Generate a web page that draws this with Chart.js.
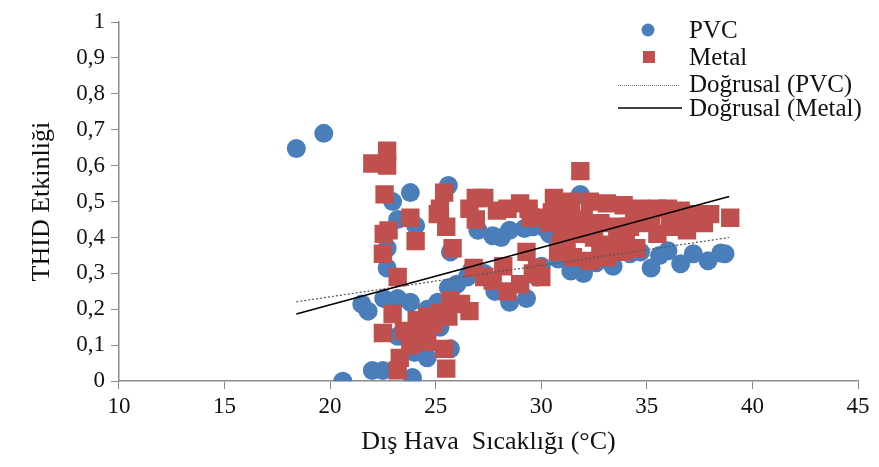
<!DOCTYPE html>
<html>
<head>
<meta charset="utf-8">
<script src="https://cdn.jsdelivr.net/npm/chart.js@4.4.0/dist/chart.umd.min.js"></script>
<style>
  html, body { margin: 0; padding: 0; background: #fff; }
  #wrap { width: 879px; height: 467px; }
</style>
</head>
<body>
<div id="wrap"><canvas id="scatterChart"></canvas></div>
<script>
var pvcX = [18.4, 19.7, 20.6, 21.5, 21.8, 22.0, 22.5, 23.9, 22.7, 22.96, 23.2, 23.8, 24.05, 22.7,
  22.54, 23.2, 23.8, 23.2, 24.6, 25.7, 25.1, 25.6, 24.6, 25.2, 24.0, 23.6, 25.6, 25.7, 26.0,
  26.5, 27.0, 27.7, 28.1, 28.5, 29.2, 29.6, 28.5, 29.3, 27.3, 27.8, 30.2, 30.4, 31.85, 31.4,
  32.0, 32.6, 33.4, 34.2, 35.2, 35.6, 36.0, 36.6, 37.2, 37.9, 38.5, 38.7, 30.0, 30.8, 33.0,
  34.7, 29.8, 26.7];
var pvcY = [0.648, 0.69, 0.0, 0.215, 0.195, 0.03, 0.03, 0.01, 0.37, 0.5, 0.45, 0.525, 0.433, 0.315,
  0.23, 0.23, 0.22, 0.125, 0.065, 0.09, 0.22, 0.26, 0.2, 0.15, 0.08, 0.12, 0.545, 0.36, 0.27,
  0.29, 0.42, 0.405, 0.40, 0.42, 0.425, 0.43, 0.22, 0.23, 0.3, 0.25, 0.425, 0.41, 0.52, 0.307,
  0.30, 0.33, 0.32, 0.355, 0.315, 0.35, 0.363, 0.327, 0.355, 0.335, 0.357, 0.355, 0.32, 0.34, 0.37,
  0.36, 0.29, 0.31];

var metalX = [22.0, 22.7, 22.7, 22.58, 23.8, 22.77, 22.54, 24.05, 22.5, 23.2, 22.96, 22.5, 23.5,
  24.1, 24.6, 25.2, 25.6, 23.3, 23.8, 24.6, 25.4, 23.2, 25.5, 25.4, 25.2, 25.1, 25.5, 25.8,
  26.9, 27.3, 26.9, 27.9, 28.4, 29.0, 29.4, 29.5, 26.8, 29.3, 28.4, 29.0, 29.6, 26.6, 26.2,
  25.7, 27.7, 27.3, 24.2, 24.9, 31.85, 30.6, 31.4, 32.3, 33.1, 33.9, 34.7, 35.5, 29.8, 30.4,
  31.0, 31.7, 32.5, 33.3, 33.9, 34.5, 31.5, 32.3, 33.1, 29.8, 30.0, 36.0, 36.6, 37.2, 38.0,
  38.95, 36.1, 36.9, 37.7, 35.0, 34.2, 30.9, 32.0, 28.2, 26.6, 30.5, 31.2, 32.0, 32.8, 33.6,
  34.4, 35.2, 36.4, 30.8, 31.2, 32.8, 34.0, 35.5];
var metalY = [0.606, 0.642, 0.60, 0.52, 0.455, 0.42, 0.41, 0.39, 0.355, 0.29, 0.187, 0.134, 0.14,
  0.17, 0.18, 0.19, 0.18, 0.065, 0.10, 0.11, 0.09, 0.03, 0.035, 0.525, 0.48, 0.465, 0.43, 0.37,
  0.51, 0.51, 0.45, 0.475, 0.48, 0.495, 0.48, 0.455, 0.315, 0.36, 0.25, 0.27, 0.30, 0.195, 0.215,
  0.225, 0.28, 0.29, 0.12, 0.16, 0.585, 0.51, 0.50, 0.50, 0.495, 0.49, 0.48, 0.48, 0.455, 0.44,
  0.43, 0.41, 0.40, 0.38, 0.36, 0.37, 0.345, 0.335, 0.345, 0.315, 0.29, 0.48, 0.475, 0.465, 0.465,
  0.455, 0.43, 0.42, 0.44, 0.44, 0.43, 0.38, 0.45, 0.32, 0.48, 0.47, 0.46, 0.45, 0.44, 0.43,
  0.45, 0.45, 0.45, 0.36, 0.39, 0.37, 0.40, 0.41];

// trend line ends
var pvcTrendX = [18.4, 38.9];
var pvcTrendY = [0.221, 0.40];
var metalTrendX = [18.4, 38.9];
var metalTrendY = [0.187, 0.514];

var xTicks = [10, 15, 20, 25, 30, 35, 40, 45];

function toPoints(xs, ys) {
  return xs.map(function (x, i) { return { x: x, y: ys[i] }; });
}

var blue = "#4a7ebb";
var red = "#c0504d";
var font = "'Liberation Serif', 'Times New Roman', serif";

// legend drawn by hand, top right over the plot
var legendPlugin = {
  id: "cornerLegend",
  afterDraw: function (chart) {
    var c = chart.ctx;
    c.save();
    c.font = "25px " + font;
    c.fillStyle = "#111";
    c.textBaseline = "alphabetic";
    c.textAlign = "left";
    var tx = 689;
    var base = [38, 65, 92, 116];
    var mid = [30, 57, 85, 108];
    var labels = ["PVC", "Metal", "Doğrusal (PVC)", "Doğrusal (Metal)"];
    labels.forEach(function (t, i) { c.fillText(t, tx, base[i]); });
    c.fillStyle = blue;
    c.beginPath();
    c.arc(648, mid[0], 6.5, 0, Math.PI * 2);
    c.fill();
    c.fillStyle = red;
    c.fillRect(643, mid[1] - 6, 12, 12);
    c.strokeStyle = "#777";
    c.lineWidth = 1;
    c.setLineDash([1, 1]);
    c.beginPath();
    c.moveTo(618, mid[2] + 0.5);
    c.lineTo(679, mid[2] + 0.5);
    c.stroke();
    c.setLineDash([]);
    c.strokeStyle = "#000";
    c.lineWidth = 1.5;
    c.beginPath();
    c.moveTo(618, mid[3]);
    c.lineTo(682, mid[3]);
    c.stroke();
    c.restore();
  }
};

var ctx = document.getElementById("scatterChart").getContext("2d");
var scatterChart = new Chart(ctx, {
  type: "scatter",
  data: {
    datasets: [
      {
        label: "Doğrusal (Metal)",
        type: "line",
        data: toPoints(metalTrendX, metalTrendY),
        borderColor: "#000",
        borderWidth: 1.6,
        pointRadius: 0,
        order: 1,
      },
      {
        label: "Doğrusal (PVC)",
        type: "line",
        data: toPoints(pvcTrendX, pvcTrendY),
        borderColor: "#555",
        borderWidth: 1.2,
        borderDash: [2, 2],
        pointRadius: 0,
        order: 2,
      },
      {
        label: "Metal",
        data: toPoints(metalX, metalY),
        pointStyle: "rect",
        pointRadius: 13,
        backgroundColor: red,
        borderWidth: 0,
        order: 3,
      },
      {
        label: "PVC",
        data: toPoints(pvcX, pvcY),
        pointStyle: "circle",
        pointRadius: 9.5,
        backgroundColor: blue,
        borderWidth: 0,
        order: 4,
      },
    ],
  },
  options: {
    responsive: true,
    maintainAspectRatio: false,
    animation: false,
    layout: {
      padding: { top: 22, right: 21, bottom: 9, left: 27 },
    },
    plugins: {
      legend: { display: false },
      tooltip: { enabled: false },
    },
    scales: {
      x: {
        type: "linear",
        min: 10,
        max: 45,
        afterBuildTicks: function (axis) {
          axis.ticks = xTicks.map(function (v) { return { value: v }; });
        },
        grid: {
          drawOnChartArea: false,
          color: "#8c8c8c",
          tickLength: 8,
        },
        border: { color: "#8c8c8c", width: 1.5 },
        ticks: {
          color: "#111",
          font: { family: font, size: 23 },
          padding: 4,
          maxRotation: 0,
        },
        title: {
          display: true,
          text: "Dış Hava  Sıcaklığı (°C)",
          color: "#111",
          font: { family: font, size: 26 },
          padding: { top: 2, bottom: 0 },
        },
      },
      y: {
        min: 0,
        max: 1,
        grid: {
          drawOnChartArea: false,
          color: "#8c8c8c",
          tickLength: 8,
        },
        border: { color: "#8c8c8c", width: 1.5 },
        ticks: {
          stepSize: 0.1,
          color: "#111",
          font: { family: font, size: 23 },
          padding: 6,
          callback: function (v) {
            return String(Number(v.toFixed(1))).replace(".", ",");
          },
        },
        title: {
          display: true,
          text: "THID Etkinliği",
          color: "#111",
          font: { family: font, size: 26 },
          padding: { top: 0, bottom: 12 },
        },
      },
    },
  },
  plugins: [legendPlugin],
});
</script>
</body>
</html>
